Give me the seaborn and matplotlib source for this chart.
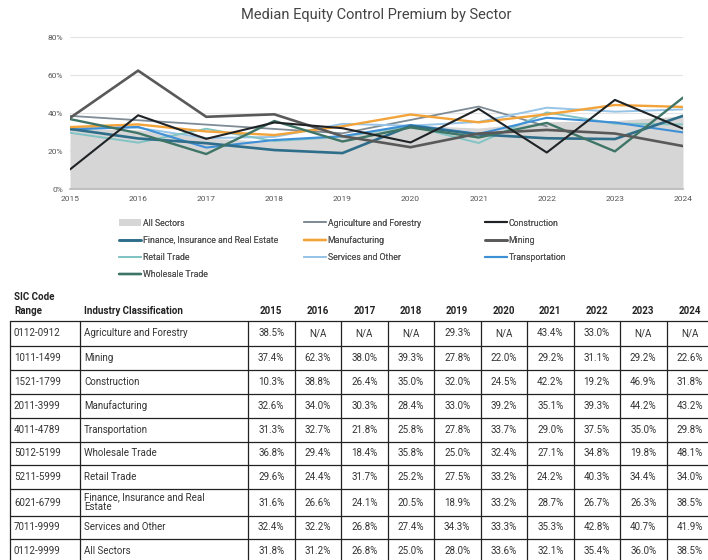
import numpy as np
import pandas as pd
import matplotlib
matplotlib.use("Agg")
import matplotlib.pyplot as plt
import seaborn as sns
from matplotlib.patches import Patch
from matplotlib.lines import Line2D

sns.set_theme(style="white")
plt.rcParams["font.family"] = ["Roboto", "DejaVu Sans"]

years = [2015, 2016, 2017, 2018, 2019, 2020, 2021, 2022, 2023, 2024]
nan = np.nan

agriculture = [38.5, nan, nan, nan, 29.3, nan, 43.4, 33.0, nan, nan]
mining = [37.4, 62.3, 38.0, 39.3, 27.8, 22.0, 29.2, 31.1, 29.2, 22.6]
construction = [10.3, 38.8, 26.4, 35.0, 32.0, 24.5, 42.2, 19.2, 46.9, 31.8]
manufacturing = [32.6, 34.0, 30.3, 28.4, 33.0, 39.2, 35.1, 39.3, 44.2, 43.2]
transportation = [31.3, 32.7, 21.8, 25.8, 27.8, 33.7, 29.0, 37.5, 35.0, 29.8]
wholesale = [36.8, 29.4, 18.4, 35.8, 25.0, 32.4, 27.1, 34.8, 19.8, 48.1]
retail = [29.6, 24.4, 31.7, 25.2, 27.5, 33.2, 24.2, 40.3, 34.4, 34.0]
finance = [31.6, 26.6, 24.1, 20.5, 18.9, 33.2, 28.7, 26.7, 26.3, 38.5]
services = [32.4, 32.2, 26.8, 27.4, 34.3, 33.3, 35.3, 42.8, 40.7, 41.9]
all_sectors = [31.8, 31.2, 26.8, 25.0, 28.0, 33.6, 32.1, 35.4, 36.0, 38.5]

sectors = ["Agriculture and Forestry", "Mining", "Construction", "Manufacturing",
           "Transportation", "Wholesale Trade", "Retail Trade",
           "Finance, Insurance and Real Estate", "Services and Other", "All Sectors"]
sic_codes = ["0112-0912", "1011-1499", "1521-1799", "2011-3999", "4011-4789",
             "5012-5199", "5211-5999", "6021-6799", "7011-9999", "0112-9999"]
series = [agriculture, mining, construction, manufacturing, transportation,
          wholesale, retail, finance, services, all_sectors]

colors = {
    "Agriculture and Forestry": "#7f8c96",
    "Mining": "#595959",
    "Construction": "#1f2326",
    "Manufacturing": "#f2a33a",
    "Transportation": "#3d8fd6",
    "Wholesale Trade": "#3e7566",
    "Retail Trade": "#82c3c4",
    "Finance, Insurance and Real Estate": "#2f6e8a",
    "Services and Other": "#97c4e6",
}
widths = {
    "Agriculture and Forestry": 1.3,
    "Mining": 1.9,
    "Construction": 1.5,
    "Manufacturing": 1.7,
    "Transportation": 1.5,
    "Wholesale Trade": 1.7,
    "Retail Trade": 1.4,
    "Finance, Insurance and Real Estate": 1.9,
    "Services and Other": 1.4,
}

rows = []
for name, vals in zip(sectors, series):
    for y, v in zip(years, vals):
        rows.append({"Sector": name, "Year": y, "Premium": v})
df = pd.DataFrame(rows)

W, H = 708, 560
fig = plt.figure(figsize=(W / 100, H / 100), dpi=100)

# line chart
ax = fig.add_axes([70 / W, 1 - 189 / H, (683 - 70) / W, (189 - 37) / H])
all_df = df[df.Sector == "All Sectors"]
ax.fill_between(all_df.Year, 0, all_df.Premium, color="#d6d6d6", lw=0, zorder=1)

draw_order = ["Agriculture and Forestry", "Services and Other", "Retail Trade",
              "Transportation", "Finance, Insurance and Real Estate",
              "Manufacturing", "Wholesale Trade", "Mining", "Construction"]
for name in draw_order:
    sub = df[df.Sector == name].dropna()
    sns.lineplot(data=sub, x="Year", y="Premium", ax=ax, color=colors[name],
                 lw=widths[name], zorder=3)

ax.set_xlim(2015, 2024)
ax.set_ylim(0, 80)
ax.set_yticks([0, 20, 40, 60, 80])
ax.set_yticklabels([f"{t}%" for t in [0, 20, 40, 60, 80]])
ax.set_xticks(years)
ax.set_xticklabels([str(y) for y in years])
ax.yaxis.grid(True, color="#e3e3e3", lw=0.8, zorder=0)
ax.xaxis.grid(False)
for s in ["top", "right", "left"]:
    ax.spines[s].set_visible(False)
ax.spines["bottom"].set_color("#bbbbbb")
ax.tick_params(axis="both", labelsize=6, colors="#555555", length=0, pad=5)
ax.set_xlabel("")
ax.set_ylabel("")
ax.set_title("Median Equity Control Premium by Sector", fontsize=10.5,
             color="#444444", pad=13)

# legend in three columns
def lh(name):
    return Line2D([0], [0], color=colors[name], lw=widths[name])

legend_cols = [
    ([Patch(facecolor="#d6d6d6", edgecolor="none"), lh("Finance, Insurance and Real Estate"),
      lh("Retail Trade"), lh("Wholesale Trade")],
     ["All Sectors", "Finance, Insurance and Real Estate", "Retail Trade", "Wholesale Trade"], 115),
    ([lh("Agriculture and Forestry"), lh("Manufacturing"), lh("Services and Other")],
     ["Agriculture and Forestry", "Manufacturing", "Services and Other"], 300),
    ([lh("Construction"), lh("Mining"), lh("Transportation")],
     ["Construction", "Mining", "Transportation"], 481),
]
for hs, ls, x0 in legend_cols:
    leg = fig.legend(hs, ls, ncol=1, loc="upper left", bbox_to_anchor=(x0 / W, 1 - 215 / H),
                     frameon=False, fontsize=6.3, labelcolor="#555555", handlelength=2.6,
                     handletextpad=0.15, labelspacing=0.95, borderaxespad=0)
    fig.add_artist(leg)

# data table
tax = fig.add_axes([0, 0, 1, 1])
tax.set_xlim(0, W)
tax.set_ylim(H, 0)
tax.axis("off")

col_x = [10, 80, 248, 294.5, 341, 387.5, 434, 480.5, 527, 573.5, 620, 666.5, 713]
row_y = [321, 346, 370, 394, 418, 442, 465, 489, 516, 539, 563]
line_kw = dict(color="#222222", lw=0.9)
for y in row_y:
    tax.plot([col_x[0], col_x[-1]], [y, y], **line_kw)
for x in col_x:
    tax.plot([x, x], [row_y[0], row_y[-1]], **line_kw)

hdr_kw = dict(fontsize=7, fontweight="bold", color="#222222", va="center")
tax.text(14, 297, "SIC Code", ha="left", **hdr_kw)
tax.text(14, 311, "Range", ha="left", **hdr_kw)
tax.text(84, 311, "Industry Classification", ha="left", **hdr_kw)
for i, y in enumerate(years):
    cx = (col_x[i + 2] + col_x[i + 3]) / 2
    tax.text(cx, 311, str(y), ha="center", **hdr_kw)

cell_kw = dict(fontsize=7, color="#333333", va="center")
table_names = sectors[:]
table_names[7] = "Finance, Insurance and Real\nEstate"
for r, (code, name, vals) in enumerate(zip(sic_codes, table_names, series)):
    cy = (row_y[r] + row_y[r + 1]) / 2
    tax.text(14, cy, code, ha="left", **cell_kw)
    tax.text(84, cy, name, ha="left", linespacing=0.95, **cell_kw)
    for i, v in enumerate(vals):
        cx = (col_x[i + 2] + col_x[i + 3]) / 2
        txt = "N/A" if np.isnan(v) else f"{v:.1f}%"
        tax.text(cx, cy, txt, ha="center", **cell_kw)

fig.savefig("out.png", dpi=100)
